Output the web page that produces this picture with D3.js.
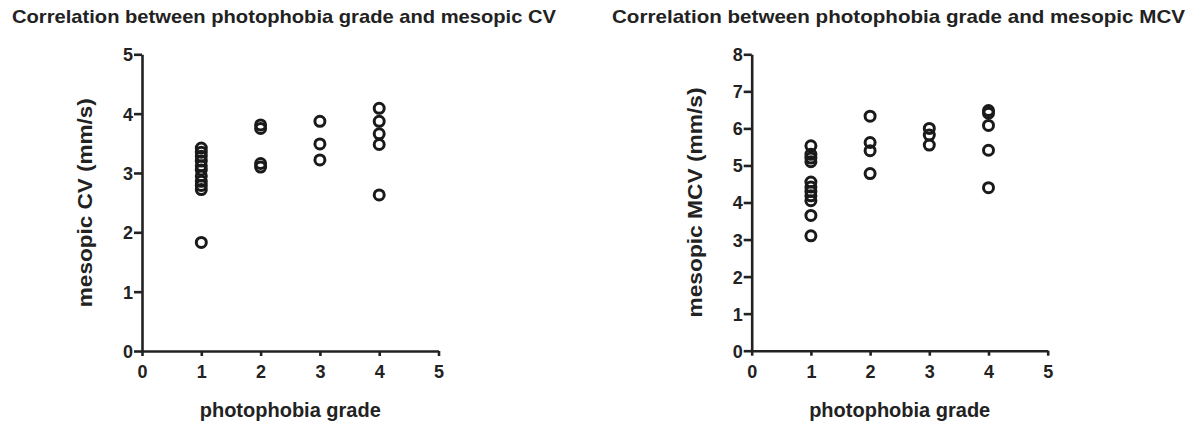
<!DOCTYPE html>
<html>
<head>
<meta charset="utf-8">
<script src="https://cdn.jsdelivr.net/npm/d3@7"></script>
<style>
  body { margin: 0; background: #fff; }
  svg { display: block; font-family: "Liberation Sans", Arial, sans-serif; }
</style>
</head>
<body>
<svg id="chart" width="1204" height="425"></svg>
<script>
const width = 1204;
const height = 425;

// grades on the x axis
const gradeTicks = [0, 1, 2, 3, 4, 5];

// mesopic CV (mm/s) per grade
const cvGrade1 = [3.42, 3.35, 3.28, 3.2, 3.12, 3.05, 2.95, 2.86, 2.79, 2.72, 1.83];
const cvGrade2 = [3.81, 3.75, 3.16, 3.1];
const cvGrade3 = [3.87, 3.49, 3.22];
const cvGrade4 = [4.09, 3.87, 3.66, 3.48, 2.63];
const cvTicks = [0, 1, 2, 3, 4, 5];

// mesopic MCV (mm/s) per grade
const mcvGrade1 = [5.53, 5.3, 5.2, 5.1, 4.55, 4.42, 4.3, 4.18, 4.05, 3.65, 3.1];
const mcvGrade2 = [6.33, 5.62, 5.4, 4.78];
const mcvGrade3 = [6.0, 5.82, 5.55];
const mcvGrade4 = [6.48, 6.41, 6.08, 5.41, 4.4];
const mcvTicks = [0, 1, 2, 3, 4, 5, 6, 7, 8];

const svg = d3.select("#chart");

function toPoints(groups) {
  const pts = [];
  groups.forEach((vals, i) => vals.forEach((v) => pts.push({ grade: i + 1, value: v })));
  return pts;
}

function drawPanel(opt) {
  const g = svg.append("g");

  const x = d3.scaleLinear().domain([0, 5]).range([opt.left, opt.right]);
  const y = d3.scaleLinear().domain([0, d3.max(opt.yTicks)]).range([opt.bottom, opt.top]);

  // title (the original lettering is a bit wider than Arial)
  g.append("text")
    .attr("x", opt.titleX)
    .attr("y", 23)
    .attr("font-size", "18.5px")
    .attr("font-weight", "bold")
    .attr("fill", "#222")
    .attr("textLength", opt.titleLen)
    .attr("lengthAdjust", "spacingAndGlyphs")
    .text(opt.title);

  // x axis
  const xAxis = g.append("g")
    .attr("transform", `translate(0,${opt.bottom})`)
    .call(d3.axisBottom(x).tickValues(gradeTicks).tickFormat(d3.format("d")).tickSize(5).tickSizeOuter(0));

  // y axis
  const yAxis = g.append("g")
    .attr("transform", `translate(${opt.left},0)`)
    .call(d3.axisLeft(y).tickValues(opt.yTicks).tickFormat(d3.format("d")).tickSize(8).tickSizeOuter(0).tickPadding(1));

  [xAxis, yAxis].forEach((a) => {
    a.select(".domain").attr("stroke", "#222").attr("stroke-width", 2.6);
    a.selectAll(".tick line").attr("stroke", "#222").attr("stroke-width", 2.6);
    a.selectAll(".tick text")
      .attr("font-family", "Liberation Sans, Arial, sans-serif")
      .attr("font-size", "18px")
      .attr("font-weight", "bold")
      .attr("fill", "#222");
  });
  xAxis.selectAll(".tick text").attr("dy", null).attr("y", 27);
  yAxis.selectAll(".tick text").attr("dy", "0.36em");

  // axis titles
  g.append("text")
    .attr("x", (opt.left + opt.right) / 2)
    .attr("y", 417)
    .attr("text-anchor", "middle")
    .attr("font-size", "20px")
    .attr("font-weight", "bold")
    .attr("fill", "#222")
    .text("photophobia grade");

  g.append("text")
    .attr("transform", `translate(${opt.yLabelX},${(opt.top + opt.bottom) / 2}) rotate(-90)`)
    .attr("text-anchor", "middle")
    .attr("font-size", "20px")
    .attr("font-weight", "bold")
    .attr("fill", "#222")
    .attr("textLength", opt.yLabelLen)
    .attr("lengthAdjust", "spacingAndGlyphs")
    .text(opt.yLabel);

  // points
  g.append("g")
    .selectAll("circle")
    .data(toPoints(opt.groups))
    .join("circle")
    .attr("cx", (d) => x(d.grade))
    .attr("cy", (d) => y(d.value))
    .attr("r", 5)
    .attr("fill", "none")
    .attr("stroke", "#1a1a1a")
    .attr("stroke-width", 3);
}

drawPanel({
  title: "Correlation between photophobia grade and mesopic CV",
  titleX: 12,
  titleLen: 544,
  left: 142, right: 438.5, top: 54.3, bottom: 351,
  yTicks: cvTicks,
  yLabel: "mesopic CV (mm/s)",
  yLabelX: 92,
  yLabelLen: 209,
  groups: [cvGrade1, cvGrade2, cvGrade3, cvGrade4]
});

drawPanel({
  title: "Correlation between photophobia grade and mesopic MCV",
  titleX: 612,
  titleLen: 573,
  left: 751.7, right: 1047.7, top: 54.3, bottom: 350.7,
  yTicks: mcvTicks,
  yLabel: "mesopic MCV (mm/s)",
  yLabelX: 702,
  yLabelLen: 230,
  groups: [mcvGrade1, mcvGrade2, mcvGrade3, mcvGrade4]
});
</script>
</body>
</html>
